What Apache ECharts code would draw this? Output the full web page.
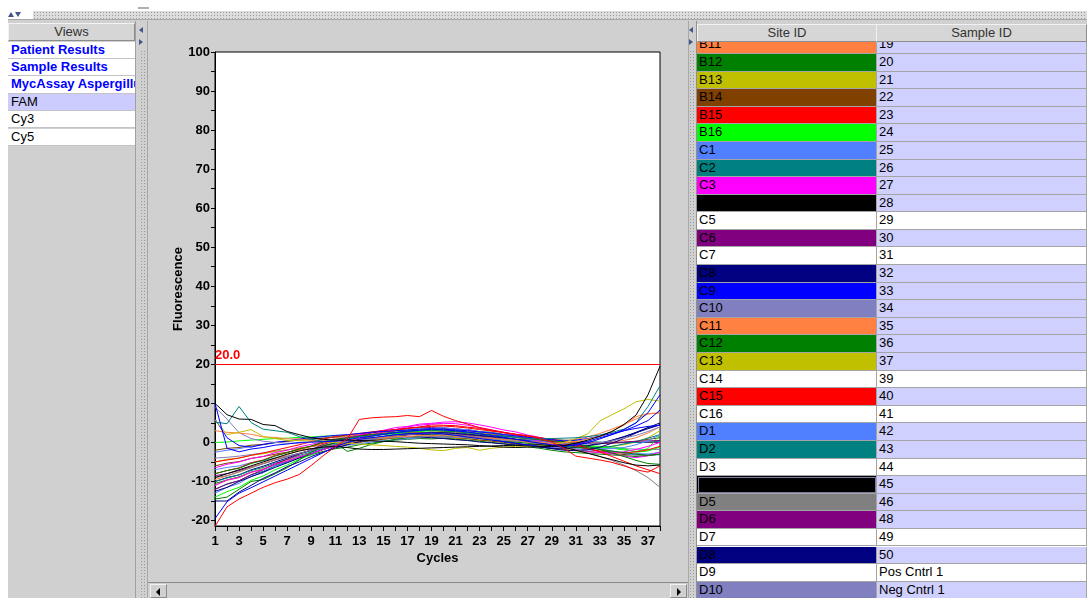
<!DOCTYPE html>
<html><head><meta charset="utf-8">
<script src="https://cdn.jsdelivr.net/npm/echarts@6/dist/echarts.min.js"></script>
<style>
body{margin:0;width:1087px;height:598px;overflow:hidden;background:#fff;font-family:"Liberation Sans",Arial,sans-serif;position:relative}
.a{position:absolute;box-sizing:border-box}
.dots{background-color:#dcdcdc;background-image:radial-gradient(circle,#9a9a9a 0.75px,transparent 1px);background-size:3px 3px}
.vdots{background-color:#d0d0d0;background-image:radial-gradient(circle,#9a9a9a 0.75px,transparent 1px);background-size:3px 3px}
.hdr{background:#d6d6d6;border:1px solid;border-color:#f2f2f2 #8c8c8c #8c8c8c #f2f2f2;font-size:13px;color:#333;text-align:center;line-height:15px;white-space:nowrap;overflow:hidden}
.vrow{left:0;width:127px;height:17.4px;border-bottom:1px solid #c4c4c4;background:#fff;font-size:13px;line-height:16px;padding-left:3px;white-space:nowrap;overflow:hidden;color:#000}
.trow{left:0;width:390px;height:17.59px;font-size:13px;line-height:16px;white-space:nowrap;color:#000}
.cell{position:absolute;top:0;height:17.59px;border-bottom:1px solid #a4a4a4;border-right:1px solid #a4a4a4;padding-left:2px;box-sizing:border-box;overflow:hidden}
.tri{position:absolute;width:0;height:0}
</style>
</head><body>
<script>
// ---- chart data ----
const cycles = [1,2,3,4,5,6,7,8,9,10,11,12,13,14,15,16,17,18,19,20,21,22,23,24,25,26,27,28,29,30,31,32,33,34,35,36,37,38];
const yLabelValues = [-20,-10,0,10,20,30,40,50,60,70,80,90,100];
const yTickValues = [-20,-15,-10,-5,0,5,10,15,20,25,30,35,40,45,50,55,60,65,70,75,80,85,90,95,100];
const threshold = 20.0;

const A1 = [-2.5,-2,-1.6,-1,-0.6,-0.1,0.3,0.6,0.9,1.1, 1.3,1.5,1.8,2,2.3,2.2,2.5,2.6,2.4,2.5, 2.2,2,1.7,1.2,0.9,0.4,0,-0.4,-0.9,-1.4, -1.7,-1.9,-2.2,-2.3,-2.6,-2.8,-3,-3.2];
const A2 = [-12,-10.6,-9.8,-8.3,-7.4,-6,-5,-3.6,-2.8,-1.5, -0.6,0,0.4,0.9,1.5,1.8,2.3,2.4,2.7,2.5, 2.6,2.2,2.1,1.5,1.2,0.6,0.3,-0.3,-0.8,-1.2, -1.4,-1.5,-1.3,-1,-0.4,0.2,1.1,2];
const A3 = [-6.5,-5.6,-5,-4.1,-3.6,-2.6,-2,-1.1,-0.5,0.2, 0.8,1.3,1.9,2.6,3.1,3.8,4.1,4.7,4.9,5.2, 5.3,5,4.5,3.9,3.2,2.7,1.9,1.3,0.5,-0.3, -1,-1.6,-2.4,-2.9,-3.5,-3.9,-3.4,-2.5];
const A8 = [-10,-9,-8.3,-7,-6.1,-5,-4,-2.9,-2,-0.9, -0.2,0.5,0.9,1.2,1.3,1.5,1.3,1.4,1.2,1, 0.7,0.5,0.1,-0.1,-0.4,-0.7,-0.9,-1.2,-1.5,-1.5, -1.3,-0.8,-0.2,0.6,1.5,2.5,3.5,4.5];
const A9 = [6,1.2,-0.8,-1.2,-0.5,0,0.4,0.9,1.2,1.5, 1.8,2,2.3,2.6,2.8,3,3.2,3.4,3.5,3.4, 3.2,3,2.7,2.4,2,1.7,1.3,1,0.7,0.4, 0.6,1,1.6,2.3,3,3.6,4.1,4.4];
const A11 = [-11,-9.7,-9,-7.7,-6.8,-5.5,-4.6,-3.6,-2.7,-1.8, -1,-0.3,0.4,0.9,1.4,1.9,2.3,2.5,2.6,2.7, 2.7,2.5,2.3,2.1,1.8,1.5,1.2,0.9,0.7,0.5, 0.8,1.4,2.3,3.4,4.6,6,7.3,7.5];
const A12 = [-10.5,-9.6,-8.8,-7.6,-6.8,-5.7,-4.8,-3.9,-3.1,-2.3, -1.6,-1.2,-0.6,-0.2,0.3,0.6,0.8,1,0.9,1.1, 0.8,0.6,0.3,0,-0.3,-0.7,-1.1,-1.5,-2,-2.4, -2.6,-2.8,-3,-3.2,-3.4,-3.6,-3.4,-3];
const A14 = [-2,-1.5,-1.3,-0.7,-0.5,0,0.3,0.6,0.9,1.1, 1.4,1.5,1.8,2,2.3,2.4,2.6,2.5,2.4,2.3, 2.2,1.9,1.7,1.4,1.2,0.9,0.7,0.4,0.2,0, -0.2,-0.3,-0.3,-0.2,0,0.3,0.8,1.2];
const A15 = [-8,-7.2,-6.5,-5.2,-4.5,-3.3,-2.6,-1.6,-1,-0.2, 0.5,1,1.6,2,2.6,3,3.6,3.9,4.5,4.4, 4.3,3.9,3.6,3,2.6,2,1.5,1,0.4,-0.4, -1,-1.7,-2.2,-2.5,-2.7,-2.4,-1.9,-1];
const A16 = [-14,-12.6,-11.5,-9.7,-8.6,-7,-5.8,-4.3,-3.2,-1.7, -0.4,0.4,1,1.5,2.1,2.3,2.7,2.8,3,2.9, 2.9,2.6,2.5,2.1,1.8,1.4,1.1,0.7,0.3,-0.1, -0.4,-0.8,-1.2,-1.5,-1.9,-2.3,-1.6,2];
const B9 = [10,-1.5,-2.4,-1.7,-1.3,-0.7,-0.4,0,0.1,0.2, 0.3,0.7,1.2,1.6,2.1,2.5,2.9,3.1,3.4,3.2, 3,2.7,2.2,1.8,1.3,0.8,0.3,-0.2,-0.6,-0.9, -0.7,-0.1,0.9,2,3.3,5,7.6,12.2];
const B11 = [3,2.6,2.4,2.1,1.4,1.3,0.9,0.9,0.5,0.6, 0.4,0.7,0.8,1.2,1.2,1.5,1.5,1.8,1.7,1.9, 1.5,1.5,1.1,1.1,0.7,0.6,0.1,0.1,-0.3,-0.1, 0.2,0.9,1.5,2.9,4.4,6.6,7.4,7.6];
const B12 = [-8,-7.2,-6.6,-5.4,-4.6,-3.5,-2.6,-1.7,-0.9,0.1, 0.8,1.2,1.6,2,2.3,2.6,2.9,3,3.1,2.9, 2.8,2.5,2.2,1.9,1.6,1.3,1,0.7,0.4,0.2, -0.3,-1,-1.8,-2.7,-3.6,-4.6,-5.4,-5.6];
const B13 = [5.8,2,2.6,3.3,1.5,1,0.5,0.5,0.3,0.2, 0,-0.2,-0.4,-0.6,-0.8,-1,-1.2,-1.5,-1.9,-2.1, -1.5,-1.3,-2,-1.5,-1.2,-1,-1,-0.8,-0.5,0, 1,2.2,5.5,7.1,8.6,10.4,11,10.6];
const B14 = [-6,-5.3,-4.9,-4.1,-3.6,-3,-2.5,-1.9,-1.6,-1.2, -0.9,-0.4,0,0.5,0.8,1.2,1.3,1.6,1.5,1.4, 1.2,1,0.6,0.3,0,-0.4,-0.7,-1.1,-1.5,-1.8, -2.1,-2.3,-2.6,-2.8,-3.1,-3.2,-3.3,-3];
const B15 = [-21.5,-16.5,-14.5,-13,-11.5,-10.3,-9.4,-8.2,-5.9,-3.4, -1.1,0.9,5.9,6.3,6.5,6.6,6.9,6.6,8.2,6.7, 5.6,4.7,3.8,3.2,2.6,2.1,1.7,1,0.1,-1.5, -3.5,-4,-4.5,-5.1,-6,-7,-7.6,-6];
const B16 = [0,0.1,0.4,0.6,0.8,1,1.1,1.3,1.4,1.6, 1.7,1.7,1.9,2,2.1,2.2,2.2,2.1,2,1.9, 1.6,1.4,1.2,0.9,0.6,0.4,0.1,-0.2,-0.5,-0.7, -0.8,-0.9,-1,-1.1,-1.6,-2.5,-2.2,-1.2];
const C1 = [-13,-11.5,-10.5,-8.6,-7.8,-6.1,-5.2,-3.7,-2.8,-1.3, -0.4,0.6,1,1.9,2.2,3,3.1,3.7,3.6,3.8, 3.4,3.3,2.7,2.5,1.8,1.5,0.8,0.4,-0.2,-0.6, -1.1,-1.4,-1.6,-1.6,-1.3,-0.6,0.4,2];
const C2 = [5.2,4.8,9.2,5.1,3.4,3,2.6,1.5,0.8,0.3, 0.6,0.9,1.4,1.6,2.2,2.5,2.7,3.1,3.2,3.1, 2.9,2.5,2.3,1.8,1.5,1.3,1,0.9,1,1.1, 1.2,1.5,1.9,2.6,3.4,5,9.2,14.5];
const C3 = [-11,-9.6,-9,-7.6,-7,-5.6,-4.8,-3.7,-2.9,-1.8, -0.8,0.2,1,1.9,2.7,3.3,4,4.4,4.7,4.9, 4.8,4.4,3.8,3.2,2.5,1.8,1.1,0.3,-0.5,-1.2, -1.8,-2.4,-2.6,-2.7,-2.4,-1.8,-1,0];
const C4 = [10,7.1,6,5.9,4.6,4.3,2.8,2,1.2,0.8, 0.6,0.6,0.5,0.4,0.3,0.2,0,-0.2,-0.3,-0.4, -0.5,-0.6,-0.8,-1,-1.2,-1.3,-1.2,-1.1,-1,-0.8, -0.2,0.6,1.6,2.8,4.6,7,12.2,19.5];
const C6 = [-12,-10.7,-9.8,-8.3,-7,-5.5,-4.3,-3,-1.9,-0.5, 0.4,1.2,1.8,2.4,3,3.3,3.7,3.9,3.8,3.7, 3.5,3.2,2.7,2.4,1.8,1.4,0.9,0.5,0.2,0, -0.1,-0.2,-0.2,-0.1,0.1,0.3,0.4,0.5];
const C8 = [-15,-15,-12.7,-11,-9.2,-7.8,-6.2,-5,-3.6,-2.5, -1.4,-0.6,0.2,0.7,1.3,1.6,2,2.1,2.2,2.2, 1.9,1.6,1.1,0.8,0.2,-0.2,-0.7,-1.1,-1.6,-2, -2.1,-1.9,-1.2,-0.2,1,2.4,3.8,5];
const C9 = [-19.5,-15.2,-13,-11.6,-10.1,-8.6,-7.1,-5.6,-4.1,-2.6, -1.1,0,0.8,1.2,1.6,2,2.2,2.3,2.4,2.2, 1.8,1.4,1,0.6,0.2,-0.2,-0.6,-1,-1.2,-1, -0.5,0.3,1.2,2,3,4.2,5.6,8.3];
const C10 = [9,6,2.5,1,0.3,0,-0.2,-0.2,0,0.3, 0.2,0.5,0.6,0.8,1.1,1.2,1.3,1.4,1.6,1.5, 1.3,1.2,1,0.8,0.5,0.4,0.2,0.1,-0.1,-0.3, -0.5,-0.4,-0.1,0.4,1.1,1.8,2.8,4];
const C11 = [-9.5,-8.6,-7.6,-6.4,-5.4,-4.2,-3.2,-2,-1,0.1, 1.1,1.6,2.1,2.4,2.8,3,3.3,3.4,3.5,3.3, 3.2,2.9,2.7,2.3,2,1.7,1.3,1.1,0.8,0.5, 0.2,0,-0.1,0.1,0.5,1.2,2.4,4];
const C12 = [-14.5,-14,-12,-10,-9.5,-8,-6.5,-4.5,-2.5,-1, 0,-2.3,-1.5,-0.5,0.2,0.8,1.2,1.5,1.7,1.7, 1.5,1.3,1,0.7,0.4,0.1,-0.2,-0.5,-0.8,-1, -1.2,-1.4,-1.8,-2.2,-2.6,-3,-3.3,-3];
const C13 = [-5,-4.3,-4,-3.3,-2.9,-2.3,-1.9,-1.4,-1,-0.6, -0.2,0,0.4,0.6,0.9,1,1.2,1.1,1.3,1.1, 1,0.9,0.6,0.5,0.2,0,-0.2,-0.4,-0.6,-0.8, -1,-1.1,-1.2,-1,-0.6,0.1,1.2,3];
const C15 = [-5,-4.5,-4,-3.3,-2.7,-2,-1.3,-0.6,0.2,0.9, 1.5,1.9,2.3,2.7,3,3.3,3.6,3.9,4.1,4.2, 4,3.7,3.3,2.9,2.5,2.1,1.7,1.2,0.8,0.2, -0.5,-1.4,-2.4,-3.6,-4.8,-6,-7,-8];
const D1 = [-7,-6.4,-6,-5.2,-4.7,-4,-3.5,-2.8,-2.3,-1.7, -1.2,-0.7,-0.3,0.1,0.4,0.7,0.9,1.2,1.3,1.4, 1.4,1.3,1.2,1,0.9,0.7,0.5,0.3,0.1,-0.2, -0.6,-1,-1.6,-2.2,-2.8,-3.2,-3,-2.5];
const D2 = [-10,-9.1,-8.3,-7.2,-6.4,-5.3,-4.4,-3.3,-2.5,-1.3, -0.5,0.4,0.9,1.7,2,2.6,2.8,3.3,3.3,3.6, 3.3,3.3,2.8,2.6,2.1,1.9,1.4,1.2,0.8,0.6, 0.4,0.2,0.1,0,-0.1,0,0.1,0.3];
const D4 = [-9,-8,-7,-6,-5,-4,-3,-2.2,-1.6,-1.2, -1,-1.3,-1.7,-1.8,-1.8,-1.7,-1.6,-1.5,-1.4,-1.3, -1.2,-1.1,-1,-0.9,-0.8,-0.7,-0.6,-0.6,-0.8,-1.2, -2,-2.8,-3.6,-4.4,-5.2,-5.8,-6,-5.8];
const D5 = [-9,-8.5,-7.5,-6.5,-5.5,-4.5,-3.6,-2.8,-2,-1.2, -0.5,0.1,0.6,1,1.4,1.7,2,2.2,2.3,2.2, 2,1.7,1.4,1.1,0.8,0.4,0,-0.4,-0.8,-1.2, -1.8,-2.6,-3.6,-4.6,-5.8,-7.2,-9,-11.5];
const D6 = [-8.5,-8,-7.2,-6.3,-5.4,-4.5,-3.6,-2.8,-2,-1.3, -0.6,0,0.5,0.9,1.3,1.6,1.9,2.1,2.2,2.2, 2.1,1.9,1.6,1.3,1,0.7,0.4,0.1,-0.2,-0.3, -0.3,-0.2,-0.1,0,0,0,0,0];
const D8 = [-12.5,-11.5,-10,-8.8,-7.6,-6.4,-5.2,-4,-2.9,-1.8, -0.8,0,0.6,1.1,1.5,1.9,2.2,2.4,2.5,2.5, 2.3,2.1,1.8,1.5,1.2,0.8,0.4,0,-0.4,-0.7, -0.9,-0.8,-0.4,0.4,1.4,2.6,3.8,4.5];
const D10 = [-4,-3.8,-3.5,-3.1,-2.7,-2.3,-1.9,-1.5,-1.1,-0.7, -0.3,0.1,0.4,0.7,1,1.2,1.4,1.5,1.6,1.6, 1.5,1.4,1.2,1,0.8,0.6,0.3,0,-0.3,-0.6, -0.8,-1,-1.2,-1.4,-1.6,-1.7,-1.8,-1.8];

const curves = {A1,A2,A3,A8,A9,A11,A12,A14,A15,A16,B9,B11,B12,B13,B14,B15,B16,C1,C2,C3,C4,C6,C8,C9,C10,C11,C12,C13,C15,D1,D2,D4,D5,D6,D8,D10};
const drawOrder = ['A1','A14','D10','B16','C13','B14','D6','A12','D1','A2','A8','A16','D2','C11','A11','C6','C1','D8','A3','A15','C3','C15','B12','C12','C8','D5','A9','C10','B11','B13','C2','D4','B9','C9','C4','B15'];

// ---- table data ----
const views = ['Patient Results','Sample Results','MycAssay Aspergillus','FAM','Cy3','Cy5'];
const siteIds = ['B11','B12','B13','B14','B15','B16','C1','C2','C3','C4','C5','C6','C7','C8','C9','C10','C11','C12','C13','C14','C15','C16','D1','D2','D3','D4','D5','D6','D7','D8','D9','D10'];
const sampleIds = ['19','20','21','22','23','24','25','26','27','28','29','30','31','32','33','34','35','36','37','39','40','41','42','43','44','45','46','48','49','50','Pos Cntrl 1','Neg Cntrl 1'];
</script>
<script>
// ---- styles ----
const wellColor = {1:'#5080ff',2:'#008080',3:'#ff00ff',4:'#000000',5:'#808080',6:'#800080',7:'#ffffff',8:'#000080',9:'#0000ff',10:'#8080c0',11:'#ff8040',12:'#008000',13:'#c0c000',14:'#804000',15:'#ff0000',16:'#00ff00'};
const whiteWells = ['C5','C7','C14','C16','D3','D7','D9'];
function colorOf(id){ if(whiteWells.indexOf(id)>=0) return '#ffffff'; return wellColor[parseInt(id.slice(1),10)]; }

function el(cls, css, html){ const d=document.createElement('div'); d.className=cls; d.style.cssText=css; if(html!==undefined) d.textContent=html; return d; }
const B = document.body;
// top strip
B.appendChild(el('a','left:138px;top:7px;width:11px;height:2px;background:#b0b0b0'));
B.appendChild(el('a dots','left:33px;top:11px;width:1054px;height:8px'));
B.appendChild(el('tri','left:8px;top:12px;border-left:3.5px solid transparent;border-right:3.5px solid transparent;border-bottom:5px solid #45558a'));
B.appendChild(el('tri','left:15px;top:12px;border-left:3.5px solid transparent;border-right:3.5px solid transparent;border-top:5px solid #45558a'));
// base gray
B.appendChild(el('a','left:8px;top:19px;width:1079px;height:579px;background:#d0d0d0;border-top:1px solid #a8a8a8'));
// left panel
B.appendChild(el('a hdr','left:8px;top:23px;width:127px;height:18px','Views'));
views.forEach((v,i)=>{
  const bold = i<3;
  const r = el('a vrow','top:'+(41.5+i*17.4)+'px;left:8px;'+(bold?'font-weight:bold;color:#0000ff;':'')+(i===3?'background:#ccccff;':''), v);
  B.appendChild(r);
});
B.appendChild(el('a','left:135px;top:21px;width:1px;height:577px;background:#a0a0a0'));
// left splitter
B.appendChild(el('tri','left:139px;top:27px;border-top:3px solid transparent;border-bottom:3px solid transparent;border-right:4px solid #45558a'));
B.appendChild(el('tri','left:139px;top:39px;border-top:3px solid transparent;border-bottom:3px solid transparent;border-left:4px solid #45558a'));
B.appendChild(el('a vdots','left:140px;top:50px;width:6px;height:548px'));
B.appendChild(el('a','left:147px;top:21px;width:1px;height:577px;background:#a8a8a8'));
// right splitter
B.appendChild(el('a','left:688px;top:21px;width:1px;height:577px;background:#a8a8a8'));
B.appendChild(el('tri','left:689px;top:27px;border-top:3px solid transparent;border-bottom:3px solid transparent;border-right:4px solid #45558a'));
B.appendChild(el('tri','left:689px;top:39px;border-top:3px solid transparent;border-bottom:3px solid transparent;border-left:4px solid #45558a'));
B.appendChild(el('a vdots','left:689px;top:50px;width:6px;height:548px'));
B.appendChild(el('a','left:696px;top:21px;width:1px;height:577px;background:#909090'));
// table
B.appendChild(el('a hdr','left:697px;top:24px;width:180px;height:18px','Site ID'));
B.appendChild(el('a hdr','left:876px;top:24px;width:211px;height:18px','Sample ID'));
const body = el('a','left:697px;top:42px;width:390px;height:556px;overflow:hidden;background:#fff');
B.appendChild(body);
siteIds.forEach((s,i)=>{
  const c = colorOf(s);
  const row = el('a trow','top:'+(-5.6+i*17.59)+'px');
  const c1 = el('cell','left:0;width:180px;background:'+c+(s==='D4'?';outline:1px solid #7c7ca0;outline-offset:-2px':''), s);
  const c2 = el('cell','left:180px;width:210px;background:'+(c==='#ffffff'?'#ffffff':'#d0d0ff'), sampleIds[i]);
  row.appendChild(c1); row.appendChild(c2); body.appendChild(row);
});
// chart container
const cd = el('a','left:148px;top:21px;width:540px;height:562px');
B.appendChild(cd);
// scrollbar
B.appendChild(el('a','left:148px;top:582px;width:540px;height:16px;background:#d0d0d0;border-top:1px solid #8a8a8a'));
B.appendChild(el('a','left:150px;top:584px;width:17px;height:14px;border:1px solid;border-color:#f0f0f0 #8a8a8a #8a8a8a #f0f0f0'));
B.appendChild(el('tri','left:156px;top:588px;border-top:4px solid transparent;border-bottom:4px solid transparent;border-right:4px solid #000'));
B.appendChild(el('a','left:670px;top:584px;width:17px;height:14px;border:1px solid;border-color:#f0f0f0 #8a8a8a #8a8a8a #f0f0f0'));
B.appendChild(el('tri','left:677px;top:588px;border-top:4px solid transparent;border-bottom:4px solid transparent;border-left:4px solid #000'));

// ---- chart ----
const chart = echarts.init(cd, null, {renderer:'canvas'});
const FONT = '"Liberation Sans", Arial, sans-serif';
const series = drawOrder.map((id, k)=>{
  const s = {
    type:'line', name:id, symbol:'none', showSymbol:false, silent:true, animation:false,
    data: curves[id].map((v,i)=>[cycles[i], v]),
    lineStyle:{width:1, color:colorOf(id)}, itemStyle:{color:colorOf(id)}
  };
  if(k===drawOrder.length-1){
    s.markLine = {silent:true, symbol:'none', animation:false,
      data:[{yAxis:threshold}],
      lineStyle:{color:'#ff0000', type:'solid', width:1},
      label:{position:'insideStartTop', formatter:threshold.toFixed(1), color:'#ff0000', fontWeight:'bold', fontSize:13, fontFamily:FONT, distance:[0,2]}
    };
  }
  return s;
});
chart.setOption({
  backgroundColor:'#d0d0d0',
  animation:false,
  grid:{left:67, top:31, width:445, height:474, show:true, backgroundColor:'#ffffff', borderColor:'#000000', borderWidth:1},
  xAxis:{type:'value', min:1, max:38, interval:1,
    name:'Cycles', nameLocation:'middle', nameGap:26, nameMoveOverlap:false,
    nameTextStyle:{fontWeight:'bold', fontSize:13, color:'#000', fontFamily:FONT},
    axisLine:{onZero:false, lineStyle:{color:'#000'}},
    axisTick:{length:5, lineStyle:{color:'#000'}},
    axisLabel:{margin:9, color:'#000', fontWeight:'bold', fontSize:13, fontFamily:FONT, formatter:v=> (v%2===1? String(v):'')},
    splitLine:{show:false}},
  yAxis:{type:'value', min:-21.4, max:100,
    name:'Fluorescence', nameLocation:'middle', nameGap:30, nameRotate:90, nameMoveOverlap:false,
    nameTextStyle:{fontWeight:'bold', fontSize:13, color:'#000', fontFamily:FONT},
    axisLine:{show:true, onZero:false, lineStyle:{color:'#000'}},
    axisTick:{show:true, length:4, customValues:yTickValues, lineStyle:{color:'#000'}},
    axisLabel:{margin:5, color:'#000', fontWeight:'bold', fontSize:13, fontFamily:FONT, customValues:yLabelValues},
    splitLine:{show:false}},
  series: series
});
</script>
</body></html>
